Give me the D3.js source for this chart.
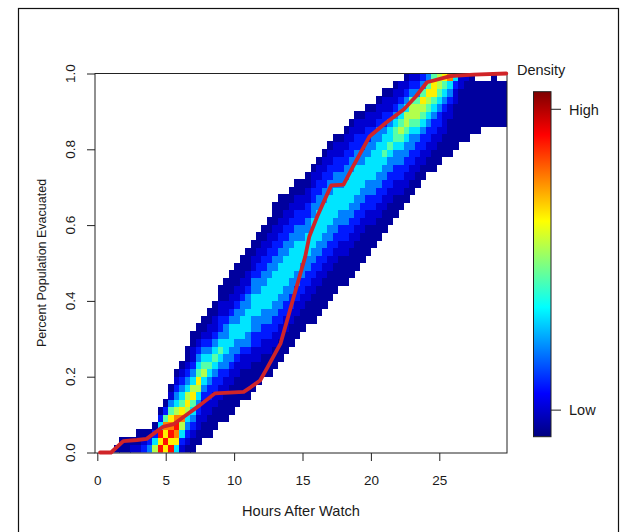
<!DOCTYPE html>
<html>
<head>
<meta charset="utf-8">
<script src="https://cdn.jsdelivr.net/npm/d3@7"></script>
<style>
  body { margin: 0; background: #fff; }
  svg text { font-family: "Liberation Sans", Arial, sans-serif; fill: #1a1a1a; }
</style>
</head>
<body>
<svg id="chart" width="623" height="532"></svg>
<script>
// axis ticks
const hourTicks = [0, 5, 10, 15, 20, 25];
const shareTicks = [0, 0.2, 0.4, 0.6, 0.8, 1.0];

// observed evacuation curve (red line)
const observedHours = [0.2, 1.0, 1.9, 2.9, 3.6, 4.8, 5.6, 6.5, 7.5, 8.6, 10.7, 11.2, 11.9, 12.4, 13.4, 14.3,
    15.2, 15.5, 16.1, 17.1, 18.0, 18.7, 19.9, 21.1, 22.4, 23.3, 24.1, 25.8, 27.5, 29.9];
const observedShare = [0.0, 0.0, 0.03, 0.033, 0.036, 0.068, 0.075, 0.099, 0.125, 0.156, 0.16, 0.172, 0.19, 0.222, 0.288, 0.403,
    0.517, 0.57, 0.625, 0.705, 0.707, 0.755, 0.834, 0.87, 0.905, 0.94, 0.977, 0.993, 0.997, 1.0];

// density grid: one entry per 0.4 h column, starting at column 3 (1.2 h)
// bottom row index (0.02 per row) and colour levels going up from it
const densityFirstBin = 3;
const densityBottomRow = [0, 0, 0, 0, 0, 0, 0, 0, 0, 0, 0, 0, 0, 0, 0, 1, 2, 2, 3, 4,
    4, 5, 6, 7, 7, 8, 9, 10, 10, 11, 12, 13, 14, 15, 16, 17, 17, 18, 19, 20,
    21, 22, 22, 23, 24, 25, 26, 27, 28, 29, 30, 31, 32, 33, 34, 35, 36, 37, 37, 38,
    39, 39, 40, 41, 41, 42, 42, 43, 43, 43, 43, 43];
const densityLevels = [
    '0', '00', '00', '10', '100', '210', '320', '6420', '979420', '7978520',
    '979875310', '47898643210', '124687543210', '01234676432100', '0012345764321100',
    '0011234675432100', '0011123465432100', '00011223454321100', '00011223454321100',
    '000112234543221100', '0000112334433211000', '0000112334443211000', '0000112334433211000',
    '0000112344433211000', '00001123344433211000', '00001122334443321100', '00011223344433221100',
    '00011223344433221100', '000112233444433221100', '0001122334444332211000', '0001122334444332211000',
    '000112233444433221100', '000112233444433221100', '000112233444433221100', '00011223344433221100',
    '00011223344433221100', '000011223344443322110', '000011223344443322110', '000011223344443322110',
    '000011223344443322110', '000011223344443322110', '00001122334443322110', '000011223344443322110',
    '000011223344443322110', '000011223344443322110', '00001122334443322110', '00001122334443322110',
    '0001122334444332110', '0001122334444332110', '0001122334544322110', '000112233454432110',
    '000112233455432110', '00112233456543211', '00112233456643210', '0011223345665321',
    '001122345665321', '00112234567532', '0011223456753', '0001122345775', '000112234566',
    '00011123457', '00000112348', '0000001124', '000000011', '000000001', '00000000',
    '0000000', '000000', '000000', '0000000', '000000', '000000'
];
// level -> position on the colour ramp
const levelValues = [0.03, 0.08, 0.15, 0.25, 0.35, 0.46, 0.55, 0.64, 0.75, 0.86];

// legend
const legendLabels = ['Low', 'High'];
const legendValues = [0.077, 0.949];

const BIN_W = 0.4,
    BIN_H = 0.02;
const PLOT = { left: 95, right: 507, top: 73.5, bottom: 452.5 };

const $svg = d3.select('#chart');

const xScale = d3.scaleLinear().domain([-0.17, 29.95]).range([PLOT.left, PLOT.right]);
const yScale = d3.scaleLinear().domain([0, 1]).range([PLOT.bottom, PLOT.top]);
const jet = d3.scaleLinear()
    .domain([0, 0.125, 0.375, 0.625, 0.875, 1])
    .range(['#00007f', '#0000ff', '#00ffff', '#ffff00', '#ff0000', '#7f0000']);

// outer frame
$svg.append('rect')
    .attr('x', 18.5).attr('y', 8.5)
    .attr('width', 600).attr('height', 540)
    .attr('fill', 'none').attr('stroke', '#111').attr('stroke-width', 1.2);

$svg.append('clipPath').attr('id', 'plot-clip')
    .append('rect')
    .attr('x', PLOT.left).attr('y', PLOT.top)
    .attr('width', PLOT.right - PLOT.left).attr('height', PLOT.bottom - PLOT.top);

// heat cells
const cells = [];
densityLevels.forEach((str, i) => {
    const h0 = (densityFirstBin + i) * BIN_W;
    str.split('').forEach((ch, k) => {
        const row = densityBottomRow[i] + k;
        cells.push({ h0, v0: row * BIN_H, level: +ch });
    });
});

$svg.append('g')
    .attr('clip-path', 'url(#plot-clip)')
    .selectAll('rect')
    .data(cells)
    .join('rect')
    .attr('x', d => xScale(d.h0))
    .attr('y', d => yScale(d.v0 + BIN_H) - 0.3)
    .attr('width', d => xScale(d.h0 + BIN_W) - xScale(d.h0) + 0.4)
    .attr('height', d => yScale(d.v0) - yScale(d.v0 + BIN_H) + 0.6)
    .attr('fill', d => jet(levelValues[d.level]))
    .attr('shape-rendering', 'crispEdges');

// box
$svg.append('rect')
    .attr('x', PLOT.left).attr('y', PLOT.top)
    .attr('width', PLOT.right - PLOT.left).attr('height', PLOT.bottom - PLOT.top + 0.5)
    .attr('fill', 'none').attr('stroke', '#222').attr('stroke-width', 1);

// x axis
const xAxis = $svg.append('g')
    .attr('transform', `translate(0, ${PLOT.bottom + 0.5})`)
    .call(d3.axisBottom(xScale).tickValues(hourTicks).tickSize(8).tickPadding(14).tickSizeOuter(0));
xAxis.select('.domain').remove();
xAxis.selectAll('line').attr('stroke', '#222');
xAxis.selectAll('text').attr('font-size', 13.5).attr('fill', '#1a1a1a');

// y axis
const yAxis = $svg.append('g')
    .attr('transform', `translate(${PLOT.left}, 0)`)
    .call(d3.axisLeft(yScale).tickValues(shareTicks).tickSize(8).tickFormat('').tickSizeOuter(0));
yAxis.select('.domain').remove();
yAxis.selectAll('line').attr('stroke', '#222');

$svg.append('g')
    .selectAll('text')
    .data(shareTicks)
    .join('text')
    .attr('transform', d => `translate(75, ${yScale(d)}) rotate(-90)`)
    .attr('text-anchor', 'middle')
    .attr('font-size', 13.5)
    .text(d3.format('.1f'));

// axis titles
$svg.append('text')
    .attr('x', (PLOT.left + PLOT.right) / 2)
    .attr('y', 516)
    .attr('text-anchor', 'middle')
    .attr('font-size', 14.6)
    .text('Hours After Watch');

$svg.append('text')
    .attr('transform', `translate(46, ${(PLOT.top + PLOT.bottom) / 2}) rotate(-90)`)
    .attr('text-anchor', 'middle')
    .attr('font-size', 12.5)
    .text('Percent Population Evacuated');

// observed curve
const line = d3.line()
    .x((d, i) => xScale(observedHours[i]))
    .y(d => yScale(d));

$svg.append('path')
    .datum(observedShare)
    .attr('d', line)
    .attr('fill', 'none')
    .attr('stroke', '#d02428')
    .attr('stroke-width', 3.8)
    .attr('stroke-linejoin', 'round')
    .attr('stroke-linecap', 'round');

// legend
const legendScale = d3.scaleLinear().domain([0, 1]).range([436.7, 91.7]);
const grad = $svg.append('defs').append('linearGradient')
    .attr('id', 'jet-grad')
    .attr('x1', 0).attr('y1', 1).attr('x2', 0).attr('y2', 0);
grad.selectAll('stop')
    .data(jet.domain())
    .join('stop')
    .attr('offset', d => d)
    .attr('stop-color', d => jet(d));

$svg.append('rect')
    .attr('x', 533.5).attr('y', legendScale(1))
    .attr('width', 17.5).attr('height', legendScale(0) - legendScale(1))
    .attr('fill', 'url(#jet-grad)')
    .attr('stroke', '#222').attr('stroke-width', 1);

const legendTicks = $svg.append('g')
    .selectAll('g')
    .data(legendLabels)
    .join('g')
    .attr('transform', (d, i) => `translate(551, ${legendScale(legendValues[i])})`);
legendTicks.append('line')
    .attr('x1', 0).attr('x2', 10)
    .attr('stroke', '#222');
legendTicks.append('text')
    .attr('x', 18).attr('dy', '0.36em')
    .attr('font-size', 14.5)
    .text(d => d);

$svg.append('text')
    .attr('x', 517).attr('y', 74.5)
    .attr('font-size', 14.5)
    .text('Density');
</script>
</body>
</html>
